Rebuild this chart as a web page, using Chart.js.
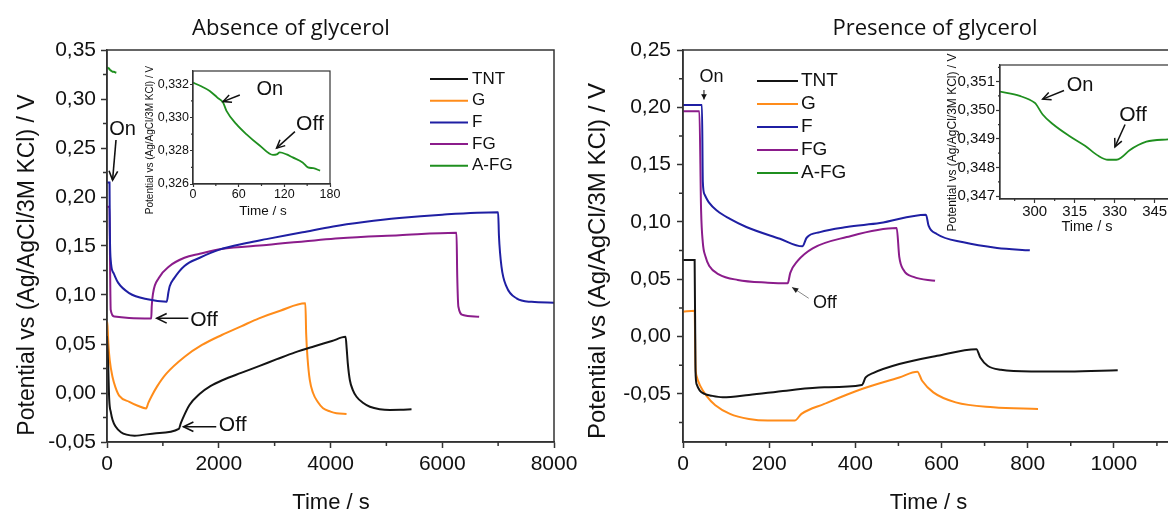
<!DOCTYPE html>
<html lang="en">
<head>
<meta charset="UTF-8">
<title>Open-circuit potential with and without glycerol</title>
<script src="https://cdn.jsdelivr.net/npm/chart.js"></script>
<style>
  html, body { margin: 0; padding: 0; width: 1168px; height: 514px; overflow: hidden; background: #fff; }
  canvas { position: absolute; }
</style>
</head>
<body>
<canvas id="absMain" width="580" height="514" style="left:0;top:0"></canvas>
<canvas id="presMain" width="622" height="514" style="left:580px;top:0"></canvas>
<canvas id="absInset" width="215" height="170" style="left:130px;top:55px"></canvas>
<canvas id="presInset" width="240" height="200" style="left:940px;top:40px"></canvas>
<script>
const seriesNames = ['TNT', 'G', 'F', 'FG', 'A-FG'];
const seriesColors = ['#141414', '#ff8c1a', '#1f1fa3', '#8b1c8b', '#1f8f1f'];

// ---- absence of glycerol: time (s) / potential (V)
const tntAbsT = [0, 20, 40, 70, 100, 150, 250, 350, 495, 880, 1285, 1320, 1357, 1476, 1656, 1850, 2074, 2400, 2720, 3040, 3366, 3700, 4026, 4270, 4290, 4310, 4346, 4400, 4466, 4580, 4705, 4880, 5064, 5250, 5450];
const tntAbsV = [0.058, 0.03, -0.007, -0.02, -0.0276, -0.034, -0.040, -0.0425, -0.0435, -0.041, -0.0367, -0.031, -0.0258, -0.0122, -0.001, 0.007, 0.0133, 0.0205, 0.0274, 0.0345, 0.0415, 0.0475, 0.053, 0.0573, 0.045, 0.030, 0.0133, 0.003, -0.0038, -0.010, -0.014, -0.0165, -0.0173, -0.0172, -0.0167];
const gAbsT = [0, 10, 25, 50, 100, 150, 221, 400, 550, 700, 740, 800, 900, 1058, 1390, 1700, 2054, 2400, 2720, 3100, 3550, 3565, 3590, 3629, 3688, 3770, 3867, 4000, 4107, 4287];
const gAbsV = [0.073, 0.068, 0.05, 0.033, 0.016, 0.006, -0.003, -0.009, -0.013, -0.0157, -0.010, -0.003, 0.007, 0.0195, 0.037, 0.049, 0.0592, 0.068, 0.0762, 0.084, 0.0915, 0.06, 0.035, 0.0133, 0.0, -0.009, -0.0156, -0.019, -0.0207, -0.0214];
const fAbsT = [0, 45, 50, 66, 120, 198, 396, 726, 1069, 1100, 1122, 1200, 1386, 1660, 2000, 2500, 2851, 3500, 4048, 4600, 5232, 6000, 7000, 7015, 7060, 7150, 7330, 7600, 8000];
const fAbsV = [0.2148, 0.2148, 0.17, 0.136, 0.122, 0.1126, 0.102, 0.0956, 0.0932, 0.103, 0.109, 0.117, 0.1297, 0.138, 0.146, 0.153, 0.157, 0.164, 0.170, 0.1745, 0.1786, 0.182, 0.1844, 0.16, 0.129, 0.1085, 0.0966, 0.093, 0.0922];
const fgAbsT = [0, 45, 55, 66, 132, 396, 792, 800, 825, 924, 1122, 1386, 1660, 2046, 2851, 4161, 5232, 6255, 6268, 6289, 6370, 6660];
const fgAbsV = [0.19, 0.19, 0.13, 0.085, 0.078, 0.0765, 0.076, 0.088, 0.102, 0.117, 0.1296, 0.138, 0.142, 0.147, 0.151, 0.158, 0.161, 0.1636, 0.12, 0.088, 0.0796, 0.0779];
const afgAbsT = [0, 10, 22, 32, 39.5, 44, 57, 70, 88, 105, 110, 114, 123, 131, 144, 151, 158, 167];
const afgAbsV = [0.3321, 0.3319, 0.3316, 0.3312, 0.3309, 0.3304, 0.3296, 0.3290, 0.3283, 0.32775, 0.32778, 0.3279, 0.32778, 0.3276, 0.3273, 0.3270, 0.32695, 0.3268];

// ---- presence of glycerol
const tntPresT = [0, 27, 29, 32, 39, 50, 66, 92, 153, 240, 328, 415, 424, 441, 502, 590, 681, 690, 707, 738, 808, 895, 1009];
const tntPresV = [0.0667, 0.0667, -0.03, -0.042, -0.0472, -0.050, -0.0516, -0.053, -0.051, -0.0472, -0.0443, -0.0423, -0.0357, -0.0319, -0.024, -0.0168, -0.011, -0.0183, -0.0255, -0.029, -0.0304, -0.0304, -0.0293];
const gPresT = [0, 27, 29, 32, 40, 55, 75, 109, 153, 197, 259, 275, 328, 415, 502, 544, 555, 581, 633, 720, 824];
const gPresV = [0.0217, 0.0225, -0.025, -0.035, -0.043, -0.052, -0.060, -0.0675, -0.0719, -0.0733, -0.0733, -0.0675, -0.0588, -0.0458, -0.0357, -0.0307, -0.0386, -0.0487, -0.0574, -0.0617, -0.0632];
const fPresT = [0, 44, 46, 50, 60, 80, 108, 147, 225, 277, 287, 318, 380, 457, 564, 570, 589, 651, 729, 805];
const fPresV = [0.2021, 0.2021, 0.135, 0.124, 0.117, 0.1095, 0.1029, 0.0956, 0.0853, 0.0787, 0.0862, 0.0911, 0.0956, 0.099, 0.1063, 0.0967, 0.0895, 0.0822, 0.0773, 0.0752];
const fgPresT = [0, 38, 42, 46, 52, 61, 83, 127, 197, 243, 249, 266, 301, 380, 496, 502, 512, 535, 585];
const fgPresV = [0.1965, 0.1965, 0.11, 0.082, 0.070, 0.0616, 0.0543, 0.0494, 0.047, 0.0464, 0.0556, 0.066, 0.077, 0.0868, 0.0946, 0.0695, 0.058, 0.052, 0.0486];
const afgPresT = [287, 294.4, 300, 300.6, 303, 307, 313, 319, 324, 327.5, 330.6, 332.5, 335.6, 341.9, 350, 354];
const afgPresV = [0.35065, 0.3505, 0.35026, 0.3502, 0.34985, 0.3495, 0.3491, 0.34875, 0.3484, 0.34827, 0.34827, 0.34835, 0.3486, 0.3489, 0.34898, 0.349];

// ---- ticks (major labelled, minor unlabelled)
const absXTicks = [0, 2000, 4000, 6000, 8000];
const absXMinor = [1000, 3000, 5000, 7000];
const absYTicks = [-0.05, 0, 0.05, 0.10, 0.15, 0.20, 0.25, 0.30, 0.35];
const absYMinor = [-0.025, 0.025, 0.075, 0.125, 0.175, 0.225, 0.275, 0.325];
const presXTicks = [0, 200, 400, 600, 800, 1000];
const presXMinor = [100, 300, 500, 700, 900, 1100];
const presYTicks = [-0.05, 0, 0.05, 0.10, 0.15, 0.20, 0.25];
const presYMinor = [-0.075, -0.025, 0.025, 0.075, 0.125, 0.175, 0.225];
const absInXTicks = [0, 60, 120, 180];
const absInXMinor = [30, 90, 150];
const absInYTicks = [0.326, 0.328, 0.330, 0.332];
const absInYMinor = [0.327, 0.329, 0.331];
const presInXTicks = [300, 315, 330, 345];
const presInXMinor = [292.5, 307.5, 322.5, 337.5, 352.5];
const presInYTicks = [0.347, 0.348, 0.349, 0.350, 0.351];
const presInYMinor = [0.3475, 0.3485, 0.3495, 0.3505, 0.3515];

const yTitle = 'Potential vs (Ag/AgCl/3M KCl) / V';
const arial = '"Liberation Sans", Arial, sans-serif';
const axisColor = '#333';
const inkColor = '#111';

function pts(t, v) { return t.map((x, i) => ({ x: x, y: v[i] })); }
const comma = d => v => v.toFixed(d).replace('.', ',');

function axis(dir, a) {
  return {
    type: 'linear',
    position: dir === 'x' ? 'bottom' : 'left',
    min: a.min, max: a.max,
    afterBuildTicks: s => { s.ticks = a.ticks.map(v => ({ value: v })); },
    afterFit: s => {
      if (dir === 'x') s.height = a.size; else s.width = a.size;
      s.paddingLeft = s.paddingRight = s.paddingTop = s.paddingBottom = 0;
    },
    grid: { drawOnChartArea: false, drawTicks: true, tickLength: a.tick, tickWidth: a.lw, tickColor: axisColor },
    border: { display: true, color: axisColor, width: a.lw },
    ticks: { padding: a.pad, color: inkColor, font: { family: arial, size: a.font }, maxRotation: 0, autoSkip: false, callback: a.fmt }
  };
}

function drawArrow(ctx, x1, y1, x2, y2, o) {
  const ang = Math.atan2(y2 - y1, x2 - x1), s = o.size, w = o.spread || 0.45;
  ctx.strokeStyle = o.color || inkColor;
  ctx.lineWidth = o.width || 1.5;
  ctx.beginPath(); ctx.moveTo(x1, y1); ctx.lineTo(x2, y2); ctx.stroke();
  ctx.beginPath();
  ctx.moveTo(x2 - s * Math.cos(ang - w), y2 - s * Math.sin(ang - w));
  ctx.lineTo(x2, y2);
  ctx.lineTo(x2 - s * Math.cos(ang + w), y2 - s * Math.sin(ang + w));
  if (o.fill) { ctx.closePath(); ctx.fillStyle = o.head || inkColor; ctx.fill(); }
  else { ctx.strokeStyle = o.head || inkColor; ctx.stroke(); }
}

// frame, minor ticks, titles, legend and on/off markers
function decor(cfg) {
  return {
    id: 'decor',
    afterDraw(chart) {
      const ctx = chart.ctx, a = chart.chartArea, sx = chart.scales.x, sy = chart.scales.y;
      ctx.save();
      ctx.strokeStyle = axisColor;
      ctx.lineWidth = cfg.frame;
      ctx.strokeRect(a.left, a.top, a.right - a.left, a.bottom - a.top);
      ctx.beginPath();
      cfg.xMinor.forEach(v => { const p = sx.getPixelForValue(v); ctx.moveTo(p, a.bottom); ctx.lineTo(p, a.bottom + cfg.minor); });
      cfg.yMinor.forEach(v => { const p = sy.getPixelForValue(v); ctx.moveTo(a.left, p); ctx.lineTo(a.left - cfg.minor, p); });
      ctx.stroke();

      ctx.fillStyle = inkColor;
      cfg.texts.forEach(t => {
        ctx.save();
        ctx.font = t.font;
        ctx.textAlign = 'center';
        ctx.textBaseline = t.base || 'middle';
        ctx.translate(t.x, t.y);
        if (t.rot) ctx.rotate(t.rot);
        ctx.fillText(t.text, 0, 0);
        ctx.restore();
      });

      if (cfg.legend) {
        const L = cfg.legend;
        ctx.font = L.font;
        ctx.textAlign = 'left';
        ctx.textBaseline = 'middle';
        chart.data.datasets.forEach((d, i) => {
          const yy = L.y + i * L.row;
          ctx.strokeStyle = d.borderColor;
          ctx.lineWidth = 2;
          ctx.beginPath(); ctx.moveTo(L.x, yy); ctx.lineTo(L.x + L.len, yy); ctx.stroke();
          ctx.fillStyle = inkColor;
          ctx.fillText(d.label, L.x + L.len + L.gap, yy);
        });
      }

      (cfg.arrows || []).forEach(r => {
        drawArrow(ctx, sx.getPixelForValue(r.from[0]), sy.getPixelForValue(r.from[1]),
          sx.getPixelForValue(r.to[0]), sy.getPixelForValue(r.to[1]), r);
      });
      (cfg.notes || []).forEach(n => {
        ctx.font = n.font;
        ctx.fillStyle = inkColor;
        ctx.textAlign = n.align || 'center';
        ctx.textBaseline = 'middle';
        ctx.fillText(n.text, sx.getPixelForValue(n.t), sy.getPixelForValue(n.v));
      });
      ctx.restore();
    }
  };
}

function plot(id, series, lw, opt) {
  return new Chart(document.getElementById(id), {
    type: 'line',
    data: {
      datasets: series.map(s => ({
        label: seriesNames[s[0]],
        data: pts(s[1], s[2]),
        borderColor: seriesColors[s[0]],
        borderWidth: lw,
        pointRadius: 0,
        fill: false,
        cubicInterpolationMode: 'monotone'
      }))
    },
    options: {
      responsive: false,
      animation: false,
      devicePixelRatio: 1,
      events: [],
      layout: { padding: opt.pad },
      plugins: { legend: { display: false }, tooltip: { enabled: false } },
      scales: { x: axis('x', opt.x), y: axis('y', opt.y) }
    },
    plugins: [decor(opt.decor)]
  });
}

// Absence of glycerol
plot('absMain', [[0, tntAbsT, tntAbsV], [1, gAbsT, gAbsV], [2, fAbsT, fAbsV], [3, fgAbsT, fgAbsV], [4, afgAbsT, afgAbsV]], 2, {
  pad: { top: 50, right: 26, bottom: 0, left: 0 },
  x: { min: 0, max: 8000, ticks: absXTicks, size: 72, tick: 6, pad: 4, font: 21, lw: 1.5, fmt: v => String(v) },
  y: { min: -0.05, max: 0.35, ticks: absYTicks, size: 107, tick: 6, pad: 5, font: 21, lw: 1.5, fmt: comma(2) },
  decor: {
    frame: 1.5, minor: 4, xMinor: absXMinor, yMinor: absYMinor,
    texts: [
      { text: 'Absence of glycerol', x: 291, y: 35, base: 'alphabetic', font: '22px "Open Sans", sans-serif' },
      { text: yTitle, x: 28, y: 265, rot: -Math.PI / 2, font: '23px ' + arial },
      { text: 'Time / s', x: 331, y: 503, font: '22px ' + arial }
    ],
    legend: { x: 430, y: 79, row: 21.7, len: 38, gap: 4, font: '17px ' + arial },
    arrows: [
      { from: [161, 0.2582], to: [100, 0.2173], size: 10, width: 1.6 },
      { from: [1456, 0.0762], to: [891, 0.0762], size: 11, width: 1.6 },
      { from: [1955, -0.0344], to: [1369, -0.0344], size: 11, width: 1.6 }
    ],
    notes: [
      { text: 'On', t: 280, v: 0.2694, font: '20px ' + arial },
      { text: 'Off', t: 1489, v: 0.0738, align: 'left', font: '21px ' + arial },
      { text: 'Off', t: 2002, v: -0.0327, align: 'left', font: '21px ' + arial }
    ]
  }
});

// Presence of glycerol
plot('presMain', [[0, tntPresT, tntPresV], [1, gPresT, gPresV], [2, fPresT, fPresV], [3, fgPresT, fgPresV], [4, afgPresT, afgPresV]], 2, {
  pad: { top: 50, right: 2, bottom: 0, left: 0 },
  x: { min: 0, max: 1200, ticks: presXTicks, size: 72, tick: 6, pad: 4, font: 21, lw: 1.5, fmt: v => String(v) },
  y: { min: -0.092, max: 0.25, ticks: presYTicks, size: 103, tick: 6, pad: 6, font: 21, lw: 1.5, fmt: comma(2) },
  decor: {
    frame: 1.5, minor: 4, xMinor: presXMinor, yMinor: presYMinor,
    texts: [
      { text: 'Presence of glycerol', x: 355, y: 35, base: 'alphabetic', font: '22px "Open Sans", sans-serif' },
      { text: yTitle, x: 18, y: 261, rot: -Math.PI / 2, font: '24px ' + arial },
      { text: 'Time / s', x: 348.5, y: 503, font: '22px ' + arial }
    ],
    legend: { x: 177, y: 81, row: 23, len: 41, gap: 3, font: '19px ' + arial },
    arrows: [
      { from: [48.7, 0.2151], to: [48.7, 0.2068], size: 6, width: 1, spread: 0.5, fill: true },
      { from: [291.8, 0.0334], to: [252.8, 0.0430], size: 7, width: 1, spread: 0.4, fill: true, color: '#888', head: '#222' }
    ],
    notes: [
      { text: 'On', t: 66, v: 0.2267, font: '18px ' + arial },
      { text: 'Off', t: 301.8, v: 0.029, align: 'left', font: '18px ' + arial }
    ]
  }
});

// inset: A-FG without glycerol
plot('absInset', [[4, afgAbsT, afgAbsV]], 1.8, {
  pad: { top: 16, right: 15, bottom: 0, left: 0 },
  x: { min: 0, max: 180, ticks: absInXTicks, size: 41, tick: 3, pad: 0, font: 12.5, lw: 1.2, fmt: v => String(v) },
  y: { min: 0.326, max: 0.3328, ticks: absInYTicks, size: 63, tick: 3, pad: 1, font: 12.5, lw: 1.2, fmt: comma(3) },
  decor: {
    frame: 1.2, minor: 2, xMinor: absInXMinor, yMinor: absInYMinor,
    texts: [
      { text: yTitle, x: 20, y: 85, rot: -Math.PI / 2, font: '10px ' + arial },
      { text: 'Time / s', x: 133, y: 156.7, font: '13.5px ' + arial }
    ],
    arrows: [
      { from: [61.5, 0.33136], to: [39.5, 0.33096], size: 9, width: 1.5 },
      { from: [133.9, 0.32915], to: [109.8, 0.32816], size: 9, width: 1.5 }
    ],
    notes: [
      { text: 'On', t: 101, v: 0.33171, font: '20px ' + arial },
      { text: 'Off', t: 153.6, v: 0.32959, font: '21px ' + arial }
    ]
  }
});

// inset: A-FG with glycerol
plot('presInset', [[4, afgPresT, afgPresV]], 1.8, {
  pad: { top: 25, right: 0, bottom: 0, left: 0 },
  x: { min: 287, max: 354.5, ticks: presInXTicks, size: 41, tick: 4, pad: 0, font: 15, lw: 1.2, fmt: v => String(v) },
  y: { min: 0.3469, max: 0.35158, ticks: presInYTicks, size: 60, tick: 4, pad: 1, font: 15, lw: 1.2, fmt: comma(3) },
  decor: {
    frame: 1.2, minor: 2, xMinor: presInXMinor, yMinor: presInYMinor,
    texts: [
      { text: yTitle, x: 13, y: 102.5, rot: -Math.PI / 2, font: '12px ' + arial },
      { text: 'Time / s', x: 147, y: 186.7, font: '14.5px ' + arial }
    ],
    arrows: [
      { from: [311, 0.35069], to: [303, 0.35039], size: 9, width: 1.5 },
      { from: [333.9, 0.3495], to: [330.1, 0.34872], size: 9, width: 1.5 }
    ],
    notes: [
      { text: 'On', t: 317, v: 0.35085, font: '20px ' + arial },
      { text: 'Off', t: 336.9, v: 0.34982, font: '21px ' + arial }
    ]
  }
});
</script>
</body>
</html>
